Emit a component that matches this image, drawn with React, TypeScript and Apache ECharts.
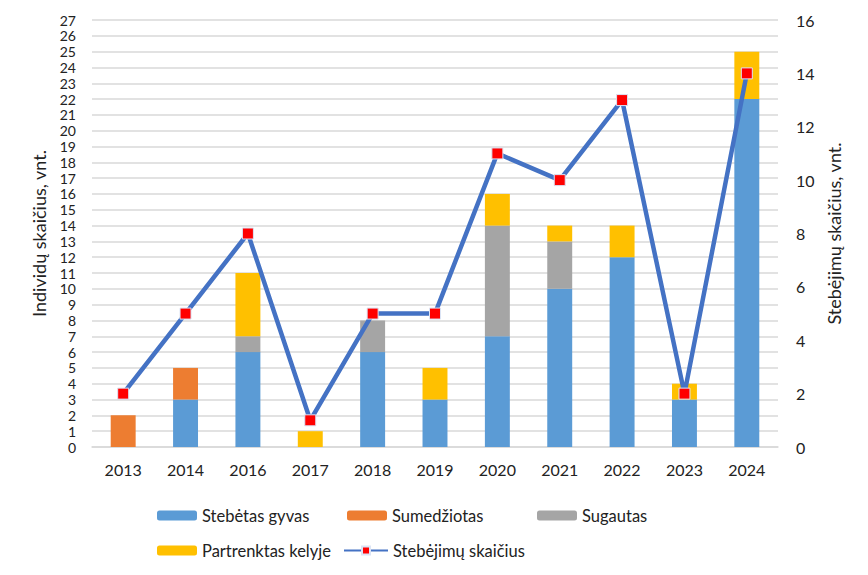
import React, { useEffect, useRef } from "react";
import * as echarts from "echarts";

const years = ["2013", "2014", "2016", "2017", "2018", "2019", "2020", "2021", "2022", "2023", "2024"];
const alive = [0, 3, 6, 0, 6, 3, 7, 10, 12, 3, 22];
const hunted = [2, 2, 0, 0, 0, 0, 0, 0, 0, 0, 0];
const caught = [0, 0, 1, 0, 2, 0, 7, 3, 0, 0, 0];
const roadkill = [0, 0, 4, 1, 0, 2, 2, 1, 2, 1, 3];
const observations = [2, 5, 8, 1, 5, 5, 11, 10, 13, 2, 14];

const seriesNames = ["Stebėtas gyvas", "Sumedžiotas", "Sugautas", "Partrenktas kelyje", "Stebėjimų skaičius"];

const FONT = "Lato, 'Open Sans', sans-serif";

export default function App() {
  const ref = useRef<HTMLDivElement>(null);
  useEffect(() => {
    if (!ref.current) return;
    const chart = echarts.init(ref.current, null, { renderer: "svg" });
    const textStyle = { fontFamily: FONT, fontSize: 16, color: "#222" };
    const legendPos = [
      { left: 149, top: 499 },
      { left: 339, top: 499 },
      { left: 529, top: 499 },
      { left: 149, top: 534 },
      { left: 335, top: 534 },
    ];
    const barData = [alive, hunted, caught, roadkill];
    const barColors = ["#5B9BD5", "#ED7D31", "#A5A5A5", "#FFC000"];
    chart.setOption({
      animation: false,
      textStyle: { fontFamily: FONT },
      grid: { left: 84, right: 98, top: 12, bottom: 136 },
      legend: legendPos.map((p, i) => ({
        ...p,
        padding: 0,
        data: [seriesNames[i]],
        itemWidth: i === 4 ? 44 : 40,
        itemHeight: 10,
        itemGap: 6,
        textStyle: { ...textStyle, fontSize: 16.5 },
      })),
      xAxis: {
        type: "category",
        data: years,
        axisLine: { lineStyle: { color: "#d9d9d9", width: 1.5 } },
        axisTick: { show: false },
        axisLabel: { ...textStyle, margin: 14 },
      },
      yAxis: [
        {
          type: "value",
          min: 0,
          max: 27,
          interval: 1,
          name: "Individų skaičius, vnt.",
          nameLocation: "middle",
          nameGap: 44,
          nameTextStyle: { fontFamily: FONT, fontSize: 18, color: "#222" },
          axisLabel: { ...textStyle, fontSize: 14, lineHeight: 14, margin: 16 },
          splitLine: { lineStyle: { color: "#d9d9d9", width: 1.5 } },
          axisLine: { show: false },
          axisTick: { show: false },
        },
        {
          type: "value",
          min: 0,
          max: 16,
          interval: 2,
          name: "Stebėjimų skaičius, vnt.",
          nameLocation: "middle",
          nameGap: 36,
          nameTextStyle: { fontFamily: FONT, fontSize: 18, color: "#222" },
          axisLabel: { ...textStyle, margin: 18 },
          splitLine: { show: false },
          axisLine: { show: false },
          axisTick: { show: false },
        },
      ],
      series: [
        ...barData.map((d, i) => ({
          name: seriesNames[i],
          type: "bar",
          stack: "total",
          data: d,
          barWidth: "40%",
          itemStyle: { color: barColors[i] },
        })),
        {
          name: seriesNames[4],
          type: "line",
          yAxisIndex: 1,
          data: observations,
          symbol: "rect",
          symbolSize: 11,
          lineStyle: { color: "#4472C4", width: 4.5 },
          itemStyle: { color: "#FF0000", borderColor: "#dbe4f5", borderWidth: 1 },
          z: 5,
        },
      ],
    });
    return () => chart.dispose();
  }, []);
  return <div ref={ref} style={{ width: 868, height: 575 }} />;
}
